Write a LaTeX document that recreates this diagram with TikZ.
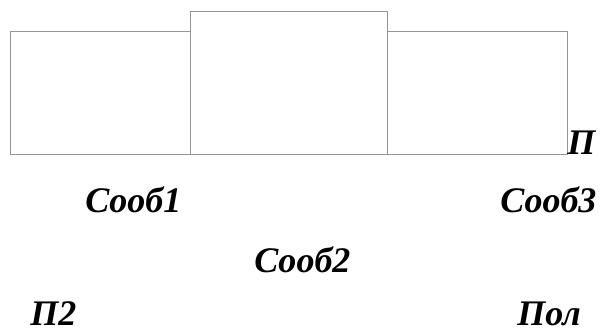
\documentclass[tikz,border=0pt]{standalone}
\usepackage{fontspec}
\setmainfont{Liberation Serif}
\begin{document}
\begin{tikzpicture}[x=0.75pt,y=-0.75pt,
  box/.style={draw=black!42,line width=0.9pt,fill=white,inner sep=0pt,anchor=north west},
  lbl/.style={font=\fontsize{27}{31}\selectfont\bfseries\itshape,inner sep=0pt,anchor=base west}]
\useasboundingbox[fill=white] (0,0) rectangle (602,333);
\node[box,minimum width=180*0.75pt,minimum height=123*0.75pt] (b1) at (10,31) {};
\node[box,minimum width=197*0.75pt,minimum height=143*0.75pt] (b2) at (190,11) {};
\node[box,minimum width=180*0.75pt,minimum height=123*0.75pt] (b3) at (387,31) {};
\node[lbl] (p) at (567,154) {П};
\node[lbl] (s1) at (85,212) {Сооб1};
\node[lbl] (s3) at (500,212) {Сооб3};
\node[lbl] (s2) at (254,272) {Сооб2};
\node[lbl] (p2) at (30,325) {П2};
\node[lbl] (pol) at (517,325) {Пол};
\end{tikzpicture}
\end{document}
